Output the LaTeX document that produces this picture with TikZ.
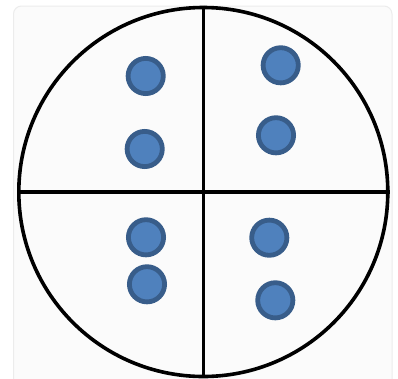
\documentclass[tikz,border=0pt]{standalone}
\begin{document}
\begin{tikzpicture}[x=1pt,y=-1pt,
  dot/.style={circle,draw=dotline,fill=dotfill,line width=4.8pt,minimum size=35.2pt,inner sep=0pt},
  ring/.style={circle,draw=black,line width=3.6pt,minimum size=369pt,inner sep=0pt},
  divider/.style={draw=black,line width=3.6pt}]
\definecolor{dotfill}{HTML}{4F81BD}
\definecolor{dotline}{HTML}{385D8A}
\definecolor{cardfill}{HTML}{FBFBFB}
\definecolor{cardline}{HTML}{ECECEC}
\useasboundingbox (0,0) rectangle (398,378);
\fill[white] (0,0) rectangle (398,378);
\draw[cardline,fill=cardfill,line width=1pt,rounded corners=8pt] (13.5,6) rectangle (392,392);
\node[ring] (big) at (203.3,192) {};
\draw[divider] (big.north) -- (big.south);
\draw[divider] (big.west) -- (big.east);
\node[dot] (d1) at (145.7,76) {};
\node[dot] (d2) at (144.7,149) {};
\node[dot] (d3) at (280.7,65.3) {};
\node[dot] (d4) at (276,135.3) {};
\node[dot] (d5) at (146,237.3) {};
\node[dot] (d6) at (147,284.3) {};
\node[dot] (d7) at (269.3,237.7) {};
\node[dot] (d8) at (275.3,300.3) {};
\end{tikzpicture}
\end{document}
